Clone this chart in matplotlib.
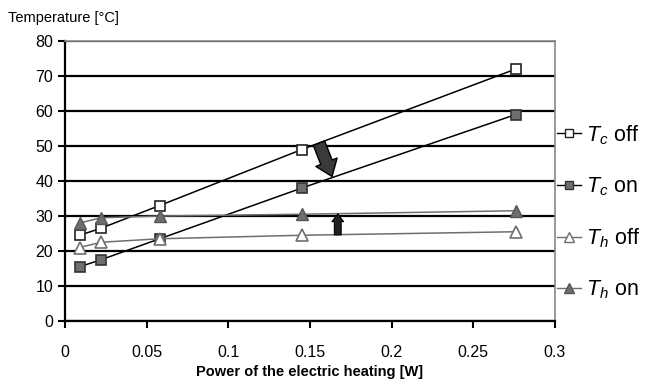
import matplotlib
matplotlib.use("Agg")
import matplotlib.pyplot as plt
from matplotlib.lines import Line2D

plt.rcParams['font.family'] = ['Liberation Sans', 'DejaVu Sans']
plt.rcParams['mathtext.fontset'] = 'custom'
plt.rcParams['mathtext.it'] = 'Liberation Sans:italic'
plt.rcParams['mathtext.rm'] = 'Liberation Sans'

power = [0.009, 0.022, 0.058, 0.145, 0.276]
tc_off = [24.5, 26.5, 33.0, 49.0, 72.0]
tc_on = [15.5, 17.5, 23.5, 38.0, 59.0]
th_off = [21.0, 22.5, 23.5, 24.5, 25.5]
th_on = [28.0, 29.5, 30.0, 30.5, 31.5]
labels = ['$T_c$ off', '$T_c$ on', '$T_h$ off', '$T_h$ on']

fig = plt.figure(figsize=(6.48, 3.81), dpi=100)
ax = fig.add_axes([65/648, 60/381, 490/648, 280/381])

gray = '#6e6e6e'
ms = 7
ax.plot(power, tc_off, color='black', lw=1.1, marker='s', ms=ms, mfc='white', mec='#222222', mew=1.2, zorder=3)
ax.plot(power, tc_on, color='black', lw=1.1, marker='s', ms=ms, mfc=gray, mec='#333333', mew=1.2, zorder=3)
ax.plot(power, th_off, color=gray, lw=1.1, marker='^', ms=ms+1, mfc='white', mec=gray, mew=1.2, zorder=3)
ax.plot(power, th_on, color=gray, lw=1.1, marker='^', ms=ms+1, mfc=gray, mec='#555555', mew=1.0, zorder=3)

ax.set_xlim(0, 0.3)
ax.set_ylim(0, 80)
ax.set_xticks([0, 0.05, 0.1, 0.15, 0.2, 0.25, 0.3])
ax.set_xticklabels(['0', '0.05', '0.1', '0.15', '0.2', '0.25', '0.3'])
ax.set_yticks(range(0, 81, 10))
ax.yaxis.grid(True, color='black', lw=1.6)
ax.set_axisbelow(True)
ax.tick_params(axis='both', labelsize=11.5, direction='out', length=5, width=1.5, color='black')
ax.tick_params(axis='x', pad=12)
for s in ['top', 'right']:
    ax.spines[s].set_color('#888888')
    ax.spines[s].set_linewidth(1.2)
for s in ['left', 'bottom']:
    ax.spines[s].set_color('black')
    ax.spines[s].set_linewidth(1.6)

ax.set_xlabel('Power of the electric heating [W]', fontsize=10.5, fontweight='bold', labelpad=4)
fig.text(8/648, 1 - 18/381, 'Temperature [°C]', fontsize=10.5, va='center', ha='left')

# arrows
ax.annotate('', xy=(0.1635, 41.3), xytext=(0.1555, 50.8),
            arrowprops=dict(arrowstyle='simple,head_length=0.5,head_width=0.75,tail_width=0.4',
                            mutation_scale=22, shrinkA=0, shrinkB=0,
                            fc='#3a3a3a', ec='black', lw=1), zorder=4)
ax.annotate('', xy=(0.167, 30.6), xytext=(0.167, 24.6),
            arrowprops=dict(arrowstyle='simple,head_length=0.4,head_width=0.6,tail_width=0.35',
                            mutation_scale=14, shrinkA=0, shrinkB=0,
                            fc='#222222', ec='black', lw=0.8), zorder=4)

handles = [
    Line2D([], [], color='black', lw=1, marker='s', ms=6, mfc='white', mec='#222222'),
    Line2D([], [], color='black', lw=1, marker='s', ms=6, mfc=gray, mec='#333333'),
    Line2D([], [], color=gray, lw=1, marker='^', ms=7, mfc='white', mec=gray),
    Line2D([], [], color=gray, lw=1, marker='^', ms=7, mfc=gray, mec='#555555'),
]
fig.legend(handles, labels, loc='upper left', bbox_to_anchor=(557/648, 1 - 123/381),
           frameon=False, fontsize=15.5, handlelength=1.1, handletextpad=0.25,
           labelspacing=1.33, borderaxespad=0, borderpad=0)

fig.savefig('out.png', dpi=100)
